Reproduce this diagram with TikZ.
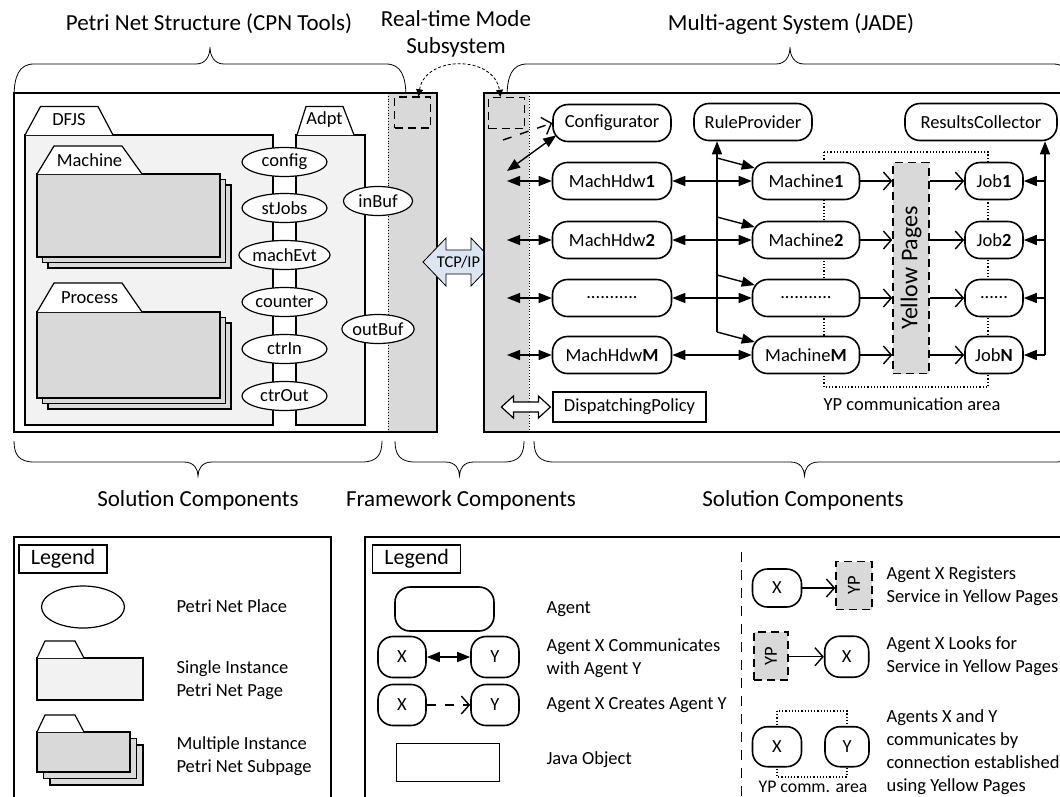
\documentclass[tikz,border=0pt]{standalone}
\usepackage{fontspec}
\setmainfont{Carlito}
\usetikzlibrary{arrows.meta,shapes.geometric,calc,positioning}

\definecolor{pagegray}{HTML}{F2F2F2}
\definecolor{subgray}{HTML}{D9D9D9}
\definecolor{tcpblue}{HTML}{DCE6F2}

% curly brace: x1, x2, y of the ends, y of the bar, y of the tip
\newcommand{\curlybrace}[5]{%
  \draw[line width=0.8pt] (#1,#3) .. controls (#1,{#4+0.35*(#3-#4)}) and ({#1+5},#4) .. ({#1+20},#4)
    -- ({(#1+#2)/2-14},#4) .. controls ({(#1+#2)/2-4},#4) and ({(#1+#2)/2},{(#4+#5)/2}) .. ({(#1+#2)/2},#5)
    .. controls ({(#1+#2)/2},{(#4+#5)/2}) and ({(#1+#2)/2+4},#4) .. ({(#1+#2)/2+14},#4)
    -- ({#2-20},#4) .. controls ({#2-5},#4) and (#2,{#4+0.35*(#3-#4)}) .. (#2,#3);}

\begin{document}
\begin{tikzpicture}[x=1pt,y=-1pt,
  every node/.style={font=\fontsize{18.5}{21}\selectfont},
  title/.style={font=\fontsize{23}{27}\selectfont,align=center},
  legtext/.style={anchor=west,align=left,font=\fontsize{18.5}{23}\selectfont},
  place/.style={draw,ellipse,fill=white,line width=1.2pt,minimum width=85pt,minimum height=29pt,inner sep=0pt},
  agent/.style={draw,line width=1.6pt,rounded corners=15pt,fill=white,minimum height=37pt,inner sep=2pt},
  jobj/.style={draw,line width=1.2pt,fill=white,inner sep=0pt},
  ypbox/.style={draw,fill=subgray,line width=1.4pt,dash pattern=on 8pt off 5pt,inner sep=0pt},
  comm/.style={line width=1.4pt,{Triangle[length=13pt,width=10pt]}-{Triangle[length=13pt,width=10pt]}},
  feed/.style={line width=1.4pt,-{Triangle[length=13pt,width=10pt]}},
  lookup/.style={line width=1.4pt,-{Straight Barb[length=8pt,width=18pt]}},
  create/.style={lookup,dash pattern=on 9pt off 9pt}]

\useasboundingbox (0,0) rectangle (1060,796);
\clip (0,0) rectangle (1060,796);

% titles and braces
\node[title] (petrititle) at (209,24) {Petri Net Structure (CPN Tools)};
\node[title] (rttitle) at (456,34) {Real-time Mode\\Subsystem};
\node[title] (jadetitle) at (791,24) {Multi-agent System (JADE)};
\curlybrace{14}{406}{98}{64}{47}
\curlybrace{507}{1073}{98}{64}{47}
\curlybrace{14}{382}{441}{462}{476}
\curlybrace{395}{524}{441}{462}{476}
\curlybrace{534}{1075}{441}{462}{476}
\node[title] (solleft) at (198,500) {Solution Components};
\node[title] (framework) at (461,500) {Framework Components};
\node[title] (solright) at (803,500) {Solution Components};

% CPN Tools side
\fill[subgray] (388,93) rectangle (437,432);
\draw[dotted,line width=0.8pt] (388,93) -- (388,432);
\draw[line width=1.6pt] (14,93) rectangle (437,432);

\draw[fill=pagegray,line width=1.2pt] (25,135) rectangle (273,425);
\draw[fill=white,line width=1.2pt] (25,135) -- (40.5,106.5) -- (98,106.5) -- (113,135);
\node (dfjs) at (69,120) {DFJS};
\draw[fill=pagegray,line width=1.2pt] (296,135) rectangle (365,425);
\draw[fill=white,line width=1.2pt] (297,135) -- (306,106.5) -- (343,106.5) -- (354,135);
\node (adpt) at (324.5,120) {Adpt};

\foreach \d in {11,5.5,0}
  \draw[fill=subgray,line width=1.2pt] ({37+\d},{174+\d}) rectangle ({220+\d},{257+\d});
\draw[fill=white,line width=1.2pt] (37,174) -- (54,146) -- (122,146) -- (142,174);
\node (machpage) at (89.5,160.5) {Machine};
\foreach \d in {11,5.5,0}
  \draw[fill=subgray,line width=1.2pt] ({37+\d},{312+\d}) rectangle ({220+\d},{398+\d});
\draw[fill=white,line width=1.2pt] (37,312) -- (54,283) -- (122,283) -- (142,312);
\node (procpage) at (89.5,298) {Process};

\node[place] (config) at (284.5,162) {config};
\node[place] (stjobs) at (284.5,208) {stJobs};
\node[place] (machevt) at (284.5,255) {machEvt};
\node[place] (counter) at (284.5,302) {counter};
\node[place] (ctrin) at (284.5,349) {ctrIn};
\node[place] (ctrout) at (284.5,396) {ctrOut};
\node[place,minimum width=69pt] (inbuf) at (378,201) {inBuf};
\node[place,minimum width=69pt] (outbuf) at (378,329) {outBuf};

% TCP/IP link
\draw[fill=tcpblue,line width=0.8pt] (423,262) -- (446,238) -- (446,250) -- (471,250) -- (471,238)
  -- (494,262) -- (471,286) -- (471,274) -- (446,274) -- (446,286) -- cycle;
\node[font=\fontsize{16.5}{18}\selectfont] (tcp) at (458.5,262) {TCP/IP};

% JADE side
\fill[subgray] (484,93) rectangle (529,432);
\draw[dotted,line width=0.8pt] (529,93) -- (529,432);
\draw[line width=1.6pt] (1070,93) -- (484,93) -- (484,432) -- (1070,432);

\node[draw,line width=1.4pt,dash pattern=on 8pt off 5pt,minimum width=36pt,minimum height=31pt,inner sep=0pt] (rtleft) at (412.5,112.5) {};
\node[draw,line width=1.4pt,dash pattern=on 8pt off 5pt,minimum width=36pt,minimum height=31pt,inner sep=0pt] (rtright) at (506.5,113) {};
\draw[line width=0.8pt,dash pattern=on 3pt off 2pt,{Triangle[length=7pt,width=7pt]}-{Triangle[length=7pt,width=7pt]}]
  ([xshift=6pt]rtleft.north) .. controls (425,55) and (494,55) .. ([xshift=-6pt]rtright.north);

\draw[dotted,line width=1.2pt] (824,152) rectangle (988,387);
\node (ypcomm) at (912,404) {YP communication area};

\node[agent,minimum width=118pt] (cfg) at (612,123) {Configurator};
\node[agent,minimum width=118pt] (rp) at (753,122) {RuleProvider};
\node[agent,minimum width=152pt] (rc) at (981,122) {ResultsCollector};

\node[agent,minimum width=119pt] (hw1) at (612,181) {MachHdw\textbf{1}};
\node[agent,minimum width=119pt] (hw2) at (612,240) {MachHdw\textbf{2}};
\node[agent,minimum width=119pt] (hw3) at (612,298) {...........};
\node[agent,minimum width=119pt] (hwM) at (612,355) {MachHdw\textbf{M}};
\node[agent,minimum width=107pt] (m1) at (806,181) {Machine\textbf{1}};
\node[agent,minimum width=107pt] (m2) at (806,240) {Machine\textbf{2}};
\node[agent,minimum width=107pt] (m3) at (806,298) {...........};
\node[agent,minimum width=107pt] (mM) at (806,355) {Machine\textbf{M}};
\node[agent,minimum width=58pt] (j1) at (994,181) {Job\textbf{1}};
\node[agent,minimum width=58pt] (j2) at (994,240) {Job\textbf{2}};
\node[agent,minimum width=58pt] (j3) at (994,298) {......};
\node[agent,minimum width=58pt] (jN) at (994,355) {Job\textbf{N}};

\node[ypbox,minimum width=36pt,minimum height=211pt] (yp) at (911,268) {};
\node[rotate=90,font=\fontsize{24}{26}\selectfont] (yptext) at (yp) {Yellow Pages};

\node[jobj,minimum width=153pt,minimum height=30pt] (dp) at (629.5,407) {DispatchingPolicy};
\draw[fill=white,line width=1.2pt,shift={(dp.west)}] (-51,0) -- (-39,-11) -- (-39,-5) -- (-14,-5) -- (-14,-11)
  -- (-2,0) -- (-14,11) -- (-14,5) -- (-39,5) -- (-39,11) -- cycle;

% connectors
\coordinate (jadeL) at (507,0);
\coordinate (cfgfrom) at (503,140);
\coordinate (cfgback) at (507,171);
\coordinate (rpbus) at (717,332);
\coordinate (rcbus) at (1045,355);
\draw[create] (cfgfrom) -- (cfg.west);
\draw[comm] (cfgback) -- ([shift={(4,-7)}]cfg.south west);
\draw[feed] (rpbus) -- (rpbus |- rp.south);
\draw[feed] (rcbus) -- (rcbus |- rc.south);
\foreach \hw/\m/\j in {hw1/m1/j1,hw2/m2/j2,hw3/m3/j3,hwM/mM/jN}{
  \draw[comm] (\hw.west -| jadeL) -- (\hw.west);
  \draw[comm] (\hw) -- (\m);
  \draw[feed] ($(rpbus |- \m.west)+(0,-23)$) -- ($(\m.west)+(3,-13)$);
  \draw[lookup] (\m.east) -- (\m.east -| yp.west);
  \draw[lookup] (\j.west -| yp.east) -- (\j.west);
  \draw[feed] (\j.east -| rcbus) -- (\j.east);
}

% legend, CPN Tools part
\draw[line width=1.2pt] (14,800) -- (14,537) -- (331,537) -- (331,800);
\node[jobj,minimum width=88pt,minimum height=28pt,font=\fontsize{22}{24}\selectfont] (legcpn) at (63,559) {Legend};
\node[place,minimum width=83pt,minimum height=42pt] (legplace) at (83,607) {};
\node[legtext] (legplacetxt) at (173,606) {Petri Net Place};
\draw[fill=pagegray,line width=1.2pt] (37,658) rectangle (143,700);
\draw[fill=white,line width=1.2pt] (37,658) -- (45,641) -- (75,641) -- (84,658);
\node[legtext] (legpagetxt) at (173,680) {Single Instance\\Petri Net Page};
\foreach \d in {13,6.5,0}
  \draw[fill=subgray,line width=1.2pt] ({37+\d},{732+\d}) rectangle ({130+\d},{772+\d});
\draw[fill=white,line width=1.2pt] (37,732) -- (45,715) -- (75,715) -- (84,732);
\node[legtext] (legsubtxt) at (173,756) {Multiple Instance\\Petri Net Subpage};

% legend, JADE part
\draw[line width=1.2pt] (365,800) -- (365,537) -- (1070,537);
\node[jobj,minimum width=88pt,minimum height=28pt,font=\fontsize{22}{24}\selectfont] (legjade) at (416.7,559) {Legend};
\node[agent,minimum width=99pt,minimum height=44pt] (legagent) at (444.5,609) {};
\node[legtext] (legagenttxt) at (543,609) {Agent};
\node[agent,minimum width=48pt,minimum height=41pt] (lx1) at (402,657) {X};
\node[agent,minimum width=48pt,minimum height=41pt] (ly1) at (495,657) {Y};
\draw[comm] (lx1) -- (ly1);
\node[legtext] (legcommtxt) at (543,658) {Agent X Communicates\\with Agent Y};
\node[agent,minimum width=48pt,minimum height=41pt] (lx2) at (402,705) {X};
\node[agent,minimum width=48pt,minimum height=41pt] (ly2) at (495,705) {Y};
\draw[create] (lx2) -- (ly2);
\node[legtext] (legcreatetxt) at (543,705) {Agent X Creates Agent Y};
\node[jobj,minimum width=103pt,minimum height=38pt] (legjava) at (448.3,762.5) {};
\node[legtext] (legjavatxt) at (543,760) {Java Object};

\draw[line width=1.2pt,dash pattern=on 10pt off 8pt] (741.7,552) -- (741.7,800);

\node[agent,minimum width=49pt,minimum height=38pt] (rx1) at (777,588) {X};
\node[ypbox,minimum width=36pt,minimum height=48pt] (lyp1) at (854,585.5) {};
\node[rotate=90] (lyp1txt) at (lyp1) {YP};
\draw[lookup] (rx1) -- (rx1 -| lyp1.west);
\node[legtext] (legregtxt) at (883,586.5) {Agent X Registers\\Service in Yellow Pages};

\node[ypbox,minimum width=34pt,minimum height=48pt] (lyp2) at (771,656) {};
\node[rotate=90] (lyp2txt) at (lyp2) {YP};
\node[agent,minimum width=44pt,minimum height=41pt] (rx2) at (846.7,656.7) {X};
\draw[lookup] (rx2 -| lyp2.east) -- (rx2);
\node[legtext] (leglooktxt) at (883,656.5) {Agent X Looks for\\Service in Yellow Pages};

\draw[dotted,line width=1.2pt] (777,711) rectangle (847,777);
\node[agent,minimum width=49pt,minimum height=40pt] (rx3) at (777,746.7) {X};
\node[agent,minimum width=44pt,minimum height=40pt] (ry3) at (847,746.7) {Y};
\node[font=\fontsize{17.8}{20}\selectfont] (legypcomm) at (813,787) {YP comm. area};
\node[legtext] (legypcommtxt) at (883,751.7) {Agents X and Y\\communicates by\\connection established\\using Yellow Pages};

\end{tikzpicture}
\end{document}
